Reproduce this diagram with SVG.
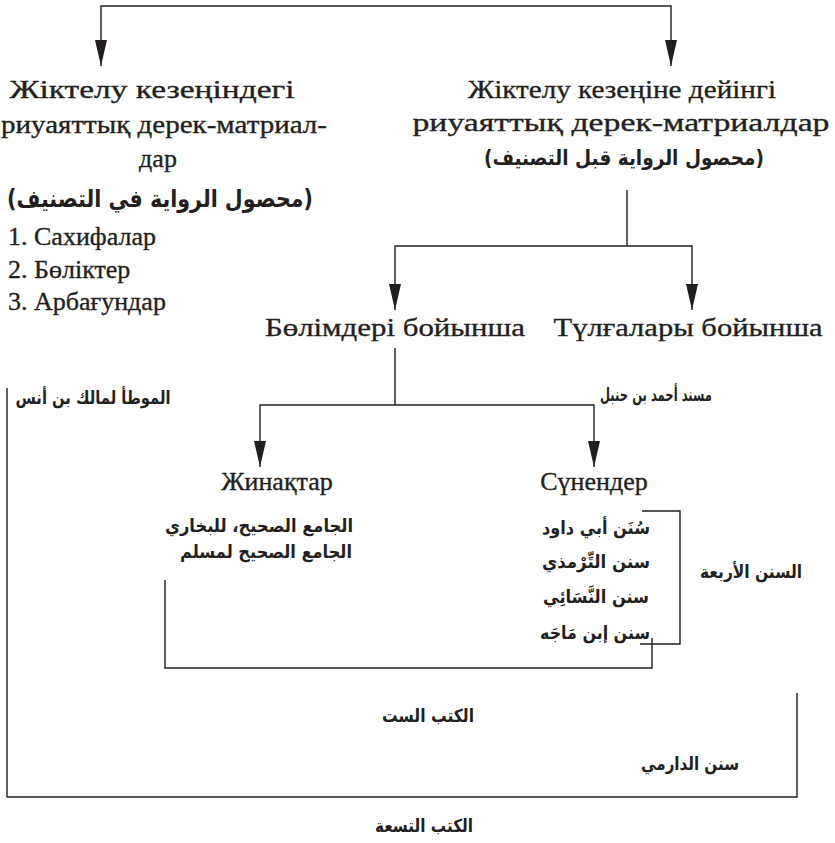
<svg xmlns="http://www.w3.org/2000/svg" width="835" height="843" viewBox="0 0 835 843">
<style>
.cy{font-family:"Liberation Serif","Times New Roman",serif;font-size:26px;fill:#231f20;stroke:#231f20;stroke-width:0.35}
.ar{font-family:"DejaVu Sans",sans-serif;font-weight:bold;font-size:18px;fill:#231f20;direction:rtl;unicode-bidi:embed}
.arL{font-size:24px}
.arM{font-size:21px}
.ln{fill:none;stroke:#231f20;stroke-width:1.4}
</style>
<defs>
<marker id="ah" viewBox="0 0 26 12" refX="26" refY="6" markerWidth="26" markerHeight="12" markerUnits="userSpaceOnUse" orient="auto-start-reverse">
<path d="M0,0 L26,6 L0,12 Z" fill="#231f20"/>
</marker>
</defs>
<rect width="835" height="843" fill="#ffffff"/>
<g id="connectors">
<path class="ln" d="M101,66 V6 H671 V66" marker-start="url(#ah)" marker-end="url(#ah)"/>
<path class="ln" d="M627,190 V246"/>
<path class="ln" d="M395,310 V246 H692 V310" marker-start="url(#ah)" marker-end="url(#ah)"/>
<path class="ln" d="M395,348 V405"/>
<path class="ln" d="M260,467 V405 H594 V467" marker-start="url(#ah)" marker-end="url(#ah)"/>
<path class="ln" d="M642,511 H680 V644 H640"/>
<path class="ln" d="M165,580 V668 H652 V638"/>
<path class="ln" d="M7,388 V797 H797 V693"/>
</g>
<g id="n-during">
<text class="cy" x="152" y="98" text-anchor="middle" textLength="285" lengthAdjust="spacingAndGlyphs">Жіктелу кезеңіндегі</text>
<text class="cy" x="164" y="133" text-anchor="middle" textLength="326" lengthAdjust="spacingAndGlyphs">риуаяттық дерек-матриал-</text>
<text class="cy" x="158" y="167" text-anchor="middle">дар</text>
<text class="ar arL" x="160" y="207" text-anchor="middle" textLength="306" lengthAdjust="spacingAndGlyphs">(محصول الرواية في التصنيف)</text>
<text class="cy" x="8" y="245">1. Сахифалар</text>
<text class="cy" x="8" y="278">2. Бөліктер</text>
<text class="cy" x="8" y="310">3. Арбағундар</text>
</g>
<g id="n-before">
<text class="cy" x="622" y="98" text-anchor="middle" textLength="308" lengthAdjust="spacingAndGlyphs">Жіктелу кезеңіне дейінгі</text>
<text class="cy" x="621" y="131" text-anchor="middle" textLength="417" lengthAdjust="spacingAndGlyphs">риуаяттық дерек-матриалдар</text>
<text class="ar arM" x="624" y="165" text-anchor="middle" textLength="280" lengthAdjust="spacingAndGlyphs">(محصول الرواية قبل التصنيف)</text>
</g>
<g id="n-sections">
<text class="cy" x="395" y="336" text-anchor="middle" textLength="260" lengthAdjust="spacingAndGlyphs">Бөлімдері бойынша</text>
</g>
<g id="n-persons">
<text class="cy" x="688" y="336" text-anchor="middle" textLength="269" lengthAdjust="spacingAndGlyphs">Түлғалары бойынша</text>
</g>
<g id="n-muwatta">
<text class="ar" x="93" y="404" text-anchor="middle" textLength="155" lengthAdjust="spacingAndGlyphs">الموطأ لمالك بن أنس</text>
</g>
<g id="n-musnad">
<text class="ar" x="656" y="401" text-anchor="middle" textLength="112" lengthAdjust="spacingAndGlyphs">مسند أحمد بن حنبل</text>
</g>
<g id="n-jawami">
<text class="cy" x="277" y="490" text-anchor="middle">Жинақтар</text>
<text class="ar" x="259" y="532" text-anchor="middle" textLength="188" lengthAdjust="spacingAndGlyphs">الجامع الصحيح، للبخاري</text>
<text class="ar" x="266" y="558" text-anchor="middle" textLength="172" lengthAdjust="spacingAndGlyphs">الجامع الصحيح لمسلم</text>
</g>
<g id="n-sunan">
<text class="cy" x="594" y="490" text-anchor="middle">Сүнендер</text>
<text class="ar" x="596" y="534" text-anchor="middle" textLength="108" lengthAdjust="spacingAndGlyphs">سُنَن أبي داود</text>
<text class="ar" x="596" y="568" text-anchor="middle" textLength="108" lengthAdjust="spacingAndGlyphs">سنن التِّرْمذي</text>
<text class="ar" x="596" y="603" text-anchor="middle" textLength="106" lengthAdjust="spacingAndGlyphs">سنن النَّسَائِي</text>
<text class="ar" x="595" y="639" text-anchor="middle" textLength="110" lengthAdjust="spacingAndGlyphs">سنن إبن مَاجَه</text>
</g>
<g id="n-sunan4">
<text class="ar" x="751" y="578" text-anchor="middle" textLength="102" lengthAdjust="spacingAndGlyphs">السنن الأربعة</text>
</g>
<g id="n-six">
<text class="ar" x="428" y="722" text-anchor="middle" textLength="92" lengthAdjust="spacingAndGlyphs">الكتب الست</text>
</g>
<g id="n-darimi">
<text class="ar" x="690" y="770" text-anchor="middle" textLength="98" lengthAdjust="spacingAndGlyphs">سنن الدارمي</text>
</g>
<g id="n-nine">
<text class="ar" x="424" y="832" text-anchor="middle" textLength="98" lengthAdjust="spacingAndGlyphs">الكتب التسعة</text>
</g>
</svg>
